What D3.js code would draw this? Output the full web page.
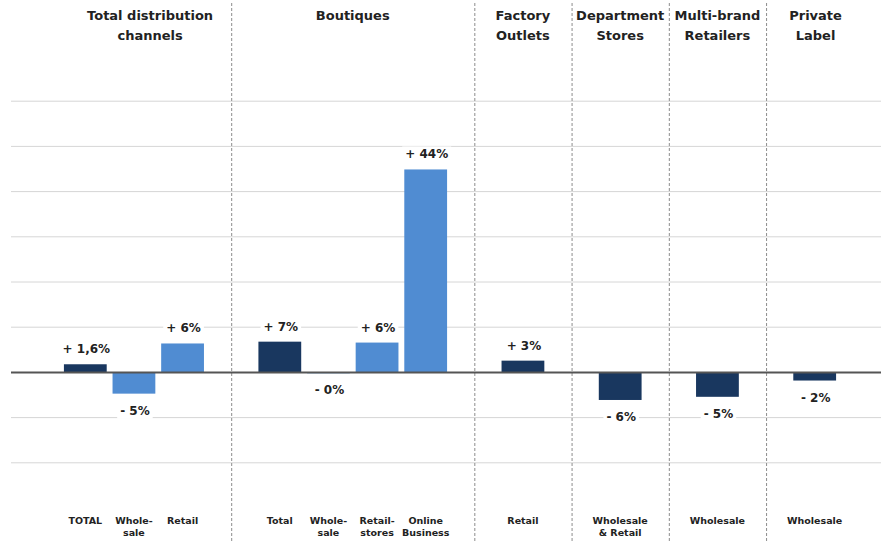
<!DOCTYPE html>
<html><head><meta charset="utf-8">
<script src="https://cdn.jsdelivr.net/npm/d3@7/dist/d3.min.js"></script>
<style>
html,body{margin:0;padding:0;background:#fff;}
svg{display:block;}
text{font-family:"DejaVu Sans",sans-serif;font-weight:bold;fill:#222;}
</style></head>
<body>
<svg id="chart" width="881" height="542"></svg>
<script>
// ---- data ----
const groups = ["Total distribution\nchannels", "Boutiques", "Factory\nOutlets", "Department\nStores", "Multi-brand\nRetailers", "Private\nLabel"];
const categories = ["TOTAL", "Whole-\nsale", "Retail", "Total", "Whole-\nsale", "Retail-\nstores", "Online\nBusiness", "Retail", "Wholesale\n& Retail", "Wholesale", "Wholesale"];
const groupOf = [0, 0, 0, 1, 1, 1, 1, 2, 3, 4, 5];
const values = [1.8, -4.7, 6.4, 6.8, -0.2, 6.6, 44.9, 2.6, -6.1, -5.4, -1.8];
const valueLabels = ["+ 1,6%", "- 5%", "+ 6%", "+ 7%", "- 0%", "+ 6%", "+ 44%", "+ 3%", "- 6%", "- 5%", "- 2%"];
const shade = ["dark", "light", "light", "dark", "light", "light", "light", "dark", "dark", "dark", "dark"];
const yTicks = [-20, -10, 0, 10, 20, 30, 40, 50, 60];

// ---- layout ----
const W = 881, H = 542;
const colors = {dark: "#19375f", light: "#508cd2"};
const svg = d3.select("#chart");

const nSlots = categories.length + groups.length - 1;
const slotOf = categories.map((c, i) => i + groupOf[i]);
const x = d3.scaleBand().domain(d3.range(nSlots)).range([61, 839]).paddingInner(0.12).paddingOuter(0.06);
const y = d3.scaleLinear().domain([-20, 60]).range([462.8, 101.2]);
const bw = x.bandwidth();
const cx = s => x(s) + bw / 2;

// gridlines
svg.append("g").selectAll("line").data(yTicks.filter(t => t !== 0)).join("line")
  .attr("x1", 11).attr("x2", W).attr("y1", d => y(d)).attr("y2", d => y(d))
  .attr("stroke", "#d6d6d6").attr("stroke-width", 1);

// separators (spacer slots between groups)
const spacerSlots = d3.range(nSlots).filter(s => !slotOf.includes(s));
svg.append("g").selectAll("line").data(spacerSlots).join("line")
  .attr("x1", d => cx(d) + 0.5).attr("x2", d => cx(d) + 0.5).attr("y1", 3).attr("y2", 541)
  .attr("stroke", "#8c8c8c").attr("stroke-width", 1).attr("stroke-dasharray", "3,2");

// bars
svg.append("g").selectAll("rect").data(values).join("rect")
  .attr("x", (d, i) => x(slotOf[i]))
  .attr("width", bw)
  .attr("y", d => Math.min(y(0), y(d)))
  .attr("height", d => Math.abs(y(d) - y(0)))
  .attr("fill", (d, i) => colors[shade[i]]);

// zero line
svg.append("line").attr("x1", 11).attr("x2", W).attr("y1", y(0)).attr("y2", y(0))
  .attr("stroke", "#555").attr("stroke-width", 2);

// value labels with white backgrounds
const vl = svg.append("g");
values.forEach((v, i) => {
  const g = vl.append("g");
  const t = g.append("text")
    .attr("x", cx(slotOf[i]) + 1)
    .attr("y", v >= 0 ? y(v) - 11 : y(v) + 21)
    .attr("text-anchor", "middle")
    .attr("font-size", 12)
    .text(valueLabels[i]);
  const b = t.node().getBBox();
  g.insert("rect", "text").attr("x", b.x - 3).attr("y", b.y - 1).attr("width", b.width + 6).attr("height", b.height + 2).attr("fill", "#fff");
});

// group titles
const sepX = spacerSlots.map(s => cx(s));
const bounds = [69].concat(sepX, [865]);
const gt = svg.append("g");
groups.forEach((g, i) => {
  const xc = (bounds[i] + bounds[i + 1]) / 2;
  const t = gt.append("text").attr("text-anchor", "middle").attr("font-size", 13);
  g.split("\n").forEach((line, j) => {
    t.append("tspan").attr("x", xc).attr("y", 20 + j * 20).text(line);
  });
});

// category labels
const cl = svg.append("g");
categories.forEach((c, i) => {
  const t = cl.append("text").attr("text-anchor", "middle").attr("font-size", 9.5);
  c.split("\n").forEach((line, j) => {
    t.append("tspan").attr("x", cx(slotOf[i])).attr("y", 524 + j * 12).text(line);
  });
});
</script>
</body></html>
